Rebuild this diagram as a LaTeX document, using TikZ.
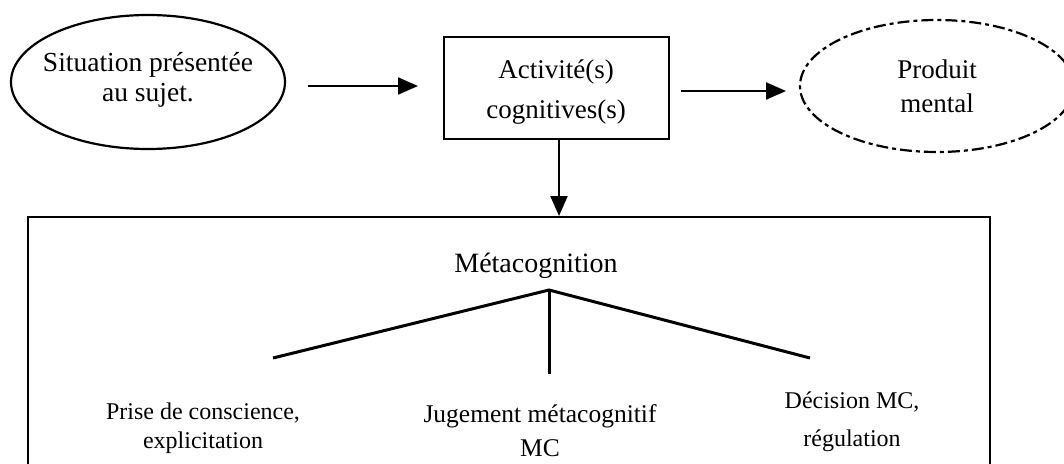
\documentclass[tikz,border=0pt]{standalone}
\usepackage{fontspec}
\setmainfont{Liberation Serif}
\usetikzlibrary{shapes.geometric,arrows.meta}
\begin{document}
\begin{tikzpicture}[x=1pt,y=-1pt,
  txt/.style={font=\fontsize{24}{29}\selectfont,align=center,inner sep=0pt},
  bigtxt/.style={txt,font=\fontsize{27}{31}\selectfont},
  oval/.style={ellipse,draw,line width=2.2pt,minimum width=274pt,minimum height=134pt,inner sep=0pt},
  flow/.style={line width=2.2pt,-{Triangle[length=20pt,width=17pt]}},
  branch/.style={line width=3pt}]
\useasboundingbox (0,0) rectangle (1064,463);
\clip (0,0) rectangle (1064,463);
% top row: situation -> activity -> product
\node[oval] (sit) at (148,82) {};
\node[bigtxt,font=\fontsize{27.5}{30}\selectfont] at ([yshift=2pt]sit.center) {Situation présentée\\au sujet.};
\node[draw,line width=2pt,minimum width=225pt,minimum height=102pt,inner sep=0pt] (act) at (556,88) {};
\node[bigtxt] at ([yshift=-4pt]act.center) {Activité(s)\\[9pt]cognitives(s)};
\node[oval,dash pattern=on 12pt off 4pt on 4pt off 4pt,minimum height=132pt] (prod) at (937,86) {};
\node[bigtxt] at (prod.center) {Produit\\[3pt]mental};
\coordinate (a1s) at (308,86);
\coordinate (a1e) at (418,86);
\coordinate (a2s) at (681,91);
\coordinate (a2e) at (786,91);
\draw[flow] (a1s) -- (a1e);
\draw[flow] (a2s) -- (a2e);
% metacognition frame
\node[draw,line width=2pt,minimum width=962pt,minimum height=280pt,inner sep=0pt,anchor=north west] (meta) at (27,216) {};
\draw[flow] (act.south -| 559,0) -- (559,216);
\node[bigtxt,font=\fontsize{28}{32}\selectfont] (mt) at (536,266) {Métacognition};
\coordinate (apex) at (549,290);
\coordinate (lend) at (273,358);
\coordinate (mend) at (549,374);
\coordinate (rend) at (810,358);
\draw[branch] (lend) -- (apex) -- (rend);
\draw[branch] (apex) -- (mend);
\node[txt] (pc) at (203,428) {Prise de conscience,\\explicitation};
\node[txt,font=\fontsize{25.5}{30}\selectfont] (jm) at (540,431) {Jugement métacognitif\\[4pt]MC};
\node[txt] (dm) at (852,422) {Décision MC,\\[9pt]régulation};
\end{tikzpicture}
\end{document}
